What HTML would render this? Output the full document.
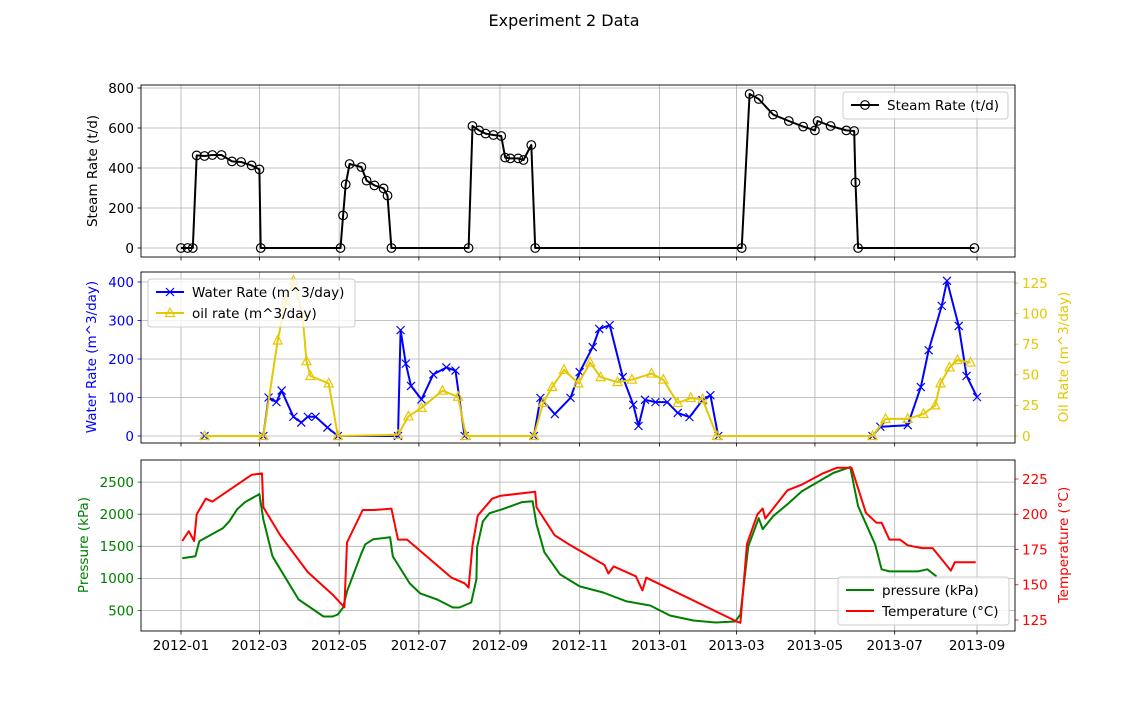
<!DOCTYPE html>
<html><head><meta charset="utf-8">
<style>
html,body{margin:0;padding:0;background:#fff;}
svg{display:block;font-family:"DejaVu Sans","Liberation Sans",sans-serif;}
</style></head>
<body>
<svg id="fig" width="1128" height="709" viewBox="0 0 1128 709" xmlns="http://www.w3.org/2000/svg">
<rect width="1128" height="709" fill="#fff"/>
<text x="564" y="26" text-anchor="middle" font-size="16">Experiment 2 Data</text>
</svg>
<script>
// ---- data (x = days since 2012-01-01) ----
const steamDays=[0,5,9,12,18,24,31,39,46,54,60,61,122,124,126,129,138,142,148,155,158,161,220,223,228,233,239,245,248,252,258,262,268,271,429,435,442,453,465,476,485,487,497,509,515,516,518,607];
const steamVals=[0,0,0,463,460,465,465,433,430,413,393,0,0,163,318,420,405,337,313,298,262,0,0,610,588,572,565,560,452,448,448,440,515,0,0,770,745,667,635,607,588,635,610,588,585,328,0,0];
const waterDays=[18,63,67,73,77,86,92,97,103,112,120,166,168,172,176,184,193,203,210,217,270,275,286,298,305,315,320,328,338,346,350,355,363,372,380,389,399,405,411,529,535,556,566,572,582,586,595,601,609];
const waterVals=[0,0,100,88,118,50,35,50,50,22,0,0,275,188,130,95,160,178,170,0,0,99,57,99,166,231,278,288,153,81,26,94,88,88,60,49,93,106,0,0,24,28,127,223,338,403,286,156,101];
const oilDays=[18,63,74,80,86,93,96,99,113,120,166,174,184,200,212,218,270,277,284,293,304,313,321,334,345,360,369,380,390,399,410,529,539,556,568,577,581,588,594,604];
const oilVals=[0,0,78,110,127,98,61,49,43,0,1,16,23,37,32,0,0,27,40,54,43,60,48,44,46,51,46,27,31,30,0,0,14,14,18,25,43,56,62,60];
const presDays=[1,11,14,32,37,43,49,60,63,70,76,90,109,116,120,124,127,138,141,147,160,162,175,183,196,208,213,222,226,226.5,231,236,246,261,269,272,278,290,305,323,341,359,374,392,409,424,428,434,442,445,453,464,475,487,499,512,518,531,536,542,564,571,578];
const presVals=[1313,1344,1578,1781,1891,2078,2188,2313,1922,1344,1141,672,406,406,438,547,797,1391,1531,1609,1641,1344,922,766,672,547,547,625,984,1484,1891,2016,2078,2188,2203,1844,1406,1063,875,781,641,578,422,344,313,328,438,1500,1938,1766,1969,2156,2359,2500,2641,2734,2125,1531,1141,1109,1109,1141,1031];
const tempDays=[1,6,10,12,19,24,54,62,63,76,97,116,125,127,139,148,161,166,173,207,217,220,223,227,238,244,271,272,286,298,324,327,331,348,353,356,425,428,433,441,445,447,464,475,491,502,513,524,532,536,542,550,556,567,575,589,592,608];
const tempVals=[181,188,181,200,211,209,228,229,205,185,159,143,134,180,203,203,204,182,182,155,151,148,178,199,211,213,216,205,185,178,164,158,163,156,146,155,124,123,179,200,204,197,217,221,229,233,233,201,194,194,182,182,178,176,176,160,166,166];
const xTickDays=[0,60,121,182,244,305,366,425,485,546,609];
const xTickLabels=["2012-01","2012-03","2012-05","2012-07","2012-09","2012-11","2013-01","2013-03","2013-05","2013-07","2013-09"];
const steamTicks=[0,200,400,600,800];
const waterTicks=[0,100,200,300,400];
const oilTicks=[0,25,50,75,100,125];
const presTicks=[500,1000,1500,2000,2500];
const tempTicks=[125,150,175,200,225];

// ---- scales ----
const X0=141,X1=1015;
const xs=d=>181+d*1.3071;
const ySteam=v=>248-v*0.2;
const yWater=v=>436-v*0.385;
const yOil=v=>436-v*1.224;
const yPres=v=>610.5-(v-500)*0.0642;
const yTemp=v=>620-(v-125)*1.41;
const panels=[{t:85,b:257},{t:272,b:443},{t:460,b:631}];
const NS="http://www.w3.org/2000/svg";
const svg=document.getElementById('fig');
function mk(tag,attrs,parent){const e=document.createElementNS(NS,tag);for(const k in attrs)e.setAttribute(k,attrs[k]);(parent||svg).appendChild(e);return e;}

// grids
panels.forEach((p,i)=>{
  xTickDays.forEach(d=>{const l=mk('line',{x1:xs(d),x2:xs(d),y1:p.t,y2:p.b,stroke:'#b0b0b0','stroke-width':0.8});
    
    });
});
function hgrid(ticks,f,p){ticks.forEach(v=>{const l=mk('line',{x1:X0,x2:X1,y1:f(v),y2:f(v),stroke:'#b0b0b0','stroke-width':0.8});
  
  });}
hgrid(steamTicks,ySteam);hgrid(waterTicks,yWater);hgrid(presTicks,yPres);

function yTicks(ticks,f,side,color,name){ticks.forEach(v=>{const y=f(v);
  const x=side==='l'?X0:X1;
  const tl=mk('line',{x1:x,x2:side==='l'?x-3.5:x+3.5,y1:y,y2:y,stroke:color,'stroke-width':0.8});
  
  
  const t=mk('text',{x:side==='l'?x-7:x+7,y:y+4.8,'text-anchor':side==='l'?'end':'start','font-size':13.5,fill:color});
  t.textContent=v;
  
  });}
yTicks(steamTicks,ySteam,'l','#000','steam-axis');
yTicks(waterTicks,yWater,'l','#0000ff','water-axis');
yTicks(oilTicks,yOil,'r','#e6c700','oil-axis');
yTicks(presTicks,yPres,'l','#008000','pressure-axis');
yTicks(tempTicks,yTemp,'r','#ff0000','temperature-axis');

// x ticks
panels.forEach((p,i)=>{xTickDays.forEach((d,j)=>{
  const tl=mk('line',{x1:xs(d),x2:xs(d),y1:p.b,y2:p.b+3.5,stroke:'#000','stroke-width':0.8});
  
  
  if(i===2){const t=mk('text',{x:xs(d),y:p.b+19,'text-anchor':'middle','font-size':13.5});
    t.textContent=xTickLabels[j];
    
    }
});});

function line(days,vals,f,color,name){const pts=days.map((d,i)=>xs(d).toFixed(1)+','+f(vals[i]).toFixed(1)).join(' ');
  const pl=mk('polyline',{points:pts,fill:'none',stroke:color,'stroke-width':2,'stroke-linejoin':'round'});
  
  }
// steam
line(steamDays,steamVals,ySteam,'#000','steam-rate');
steamDays.forEach((d,i)=>{const c=mk('circle',{cx:xs(d),cy:ySteam(steamVals[i]),r:4.3,fill:'none',stroke:'#000','stroke-width':1.2});
  
  });
// water
line(waterDays,waterVals,yWater,'#0000ff','water-rate');
waterDays.forEach((d,i)=>{const x=xs(d),y=yWater(waterVals[i]);
  const m=mk('path',{d:`M${x-4},${y-4}L${x+4},${y+4}M${x-4},${y+4}L${x+4},${y-4}`,stroke:'#0000ff','stroke-width':1.2});
  
  });
// oil
line(oilDays,oilVals,yOil,'#e6c700','oil-rate');
oilDays.forEach((d,i)=>{const x=xs(d),y=yOil(oilVals[i]);
  const m=mk('path',{d:`M${x},${y-5}L${x+4.5},${y+3.5}L${x-4.5},${y+3.5}Z`,fill:'none',stroke:'#e6c700','stroke-width':1.2});
  
  });
// pressure & temperature
line(presDays,presVals,yPres,'#008000','pressure');
line(tempDays,tempVals,yTemp,'#ff0000','temperature');

// frames
panels.forEach(p=>{const r=mk('rect',{x:X0,y:p.t,width:X1-X0,height:p.b-p.t,fill:'none',stroke:'#000','stroke-width':0.9});
  
  });

// axis titles
function vtitle(x,y,txt,color,name){const t=mk('text',{x:x,y:y,transform:`rotate(-90 ${x} ${y})`,'text-anchor':'middle','font-size':13.5,fill:color});
  t.textContent=txt;
  
  }
vtitle(97,171,'Steam Rate (t/d)','#000','steam-axis-title');
vtitle(96,357,'Water Rate (m^3/day)','#0000ff','water-axis-title');
vtitle(1068,357,'Oil Rate (m^3/day)','#e6c700','oil-axis-title');
vtitle(88,545,'Pressure (kPa)','#008000','pressure-axis-title');
vtitle(1068,545,'Temperature (°C)','#ff0000','temperature-axis-title');

// legends
function legend(x,y,w,entries,name){const g=mk('g',{});
  
  
  mk('rect',{x:x,y:y,width:w,height:entries.length*21+6,rx:3,fill:'#fff','fill-opacity':0.8,stroke:'#ccc'},g);
  entries.forEach((e,i)=>{const cy=y+13+i*21;
    mk('line',{x1:x+8,x2:x+36,y1:cy,y2:cy,stroke:e.c,'stroke-width':2},g);
    if(e.m==='o')mk('circle',{cx:x+22,cy:cy,r:4.3,fill:'none',stroke:e.c,'stroke-width':1.2},g);
    if(e.m==='x')mk('path',{d:`M${x+18},${cy-4}L${x+26},${cy+4}M${x+18},${cy+4}L${x+26},${cy-4}`,stroke:e.c,'stroke-width':1.2},g);
    if(e.m==='^')mk('path',{d:`M${x+22},${cy-5}L${x+26.5},${cy+3.5}L${x+17.5},${cy+3.5}Z`,fill:'none',stroke:e.c,'stroke-width':1.2},g);
    const t=mk('text',{x:x+44,y:cy+5,'font-size':13.5},g);t.textContent=e.t;
    
    });}
legend(843,92,165,[{c:'#000',m:'o',t:'Steam Rate (t/d)'}],'steam-legend');
legend(148,279,207,[{c:'#0000ff',m:'x',t:'Water Rate (m^3/day)'},{c:'#e6c700',m:'^',t:'oil rate (m^3/day)'}],'rate-legend');
legend(838,577,171,[{c:'#008000',m:'',t:'pressure (kPa)'},{c:'#ff0000',m:'',t:'Temperature (°C)'}],'pt-legend');
</script>
</body></html>
